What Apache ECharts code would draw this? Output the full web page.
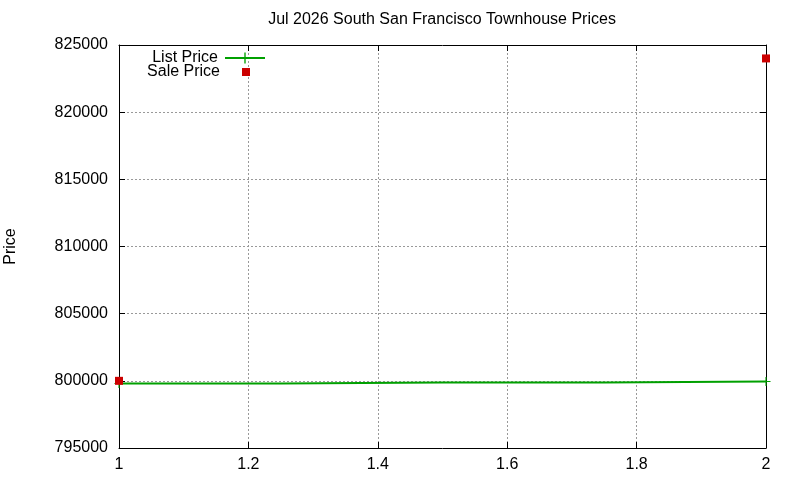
<!DOCTYPE html>
<html lang="en" style="height: 100%">
<head>
  <meta charset="utf-8">
</head>
<body style="height: 100%; margin: 0; background: #fff">
  <div id="container" style="width: 800px; height: 480px"></div>
  <script type="text/javascript" src="https://fastly.jsdelivr.net/npm/echarts@6/dist/echarts.min.js"></script>
  <script type="text/javascript">
    // data
    var listX = [1, 1.5, 2];
    var listPrice = [799800, 799870, 799950];
    var saleX = [1, 2];
    var salePrice = [800000, 824000];
    var xTicks = [1, 1.2, 1.4, 1.6, 1.8, 2];
    var yTicks = [795000, 800000, 805000, 810000, 815000, 820000, 825000];

    var font = 'Liberation Sans, Arial, sans-serif';
    var plus = 'path://M0,4.4H10V5.6H0Z M4.4,0H5.6V10H4.4Z';

    var myChart = echarts.init(document.getElementById('container'), null, { renderer: 'canvas' });

    var listData = listX.map(function (x, i) { return [x, listPrice[i]]; });
    var saleData = saleX.map(function (x, i) { return [x, salePrice[i]]; });

    var option = {
      backgroundColor: '#fff',
      animation: false,
      textStyle: { fontFamily: font },
      title: {
        text: 'Jul 2026 South San Francisco Townhouse Prices',
        left: 442, textAlign: 'center', top: 12, padding: 0,
        textStyle: { fontFamily: font, fontSize: 16, fontWeight: 'normal', color: '#000' }
      },
      legend: [
        {
          data: ['List Price'], right: 534, top: 50, align: 'right', padding: 0,
          itemWidth: 40, itemHeight: 14, itemGap: 0,
          textStyle: { fontFamily: font, fontSize: 16, color: '#000', padding: [0, 2, 0, 0] }
        },
        {
          data: ['Sale Price'], right: 550, top: 64, align: 'right', padding: 0,
          itemWidth: 8, itemHeight: 8, itemGap: 0,
          itemStyle: { opacity: 1 },
          textStyle: { fontFamily: font, fontSize: 16, color: '#000', padding: [0, 17, 0, 0] }
        }
      ],
      grid: { left: 119, right: 34, top: 45, bottom: 32, outerBoundsMode: 'none', containLabel: false },
      xAxis: [
        {
          type: 'value', min: 1, max: 2, interval: 0.2,
          axisLine: { lineStyle: { color: '#000' } },
          axisTick: { inside: true, length: 6, lineStyle: { color: '#000' } },
          axisLabel: {
            color: '#000', fontSize: 16, margin: 9, fontFamily: font,
            formatter: function (v) { return String(+v.toFixed(1)); }
          },
          splitLine: { show: true, lineStyle: { color: '#999', type: [2, 2] } }
        },
        {
          type: 'value', min: 1, max: 2, interval: 0.2, position: 'top',
          axisLine: { show: true, lineStyle: { color: '#000' } },
          axisTick: { show: true, inside: true, length: 6, lineStyle: { color: '#000' } },
          axisLabel: { show: false }, splitLine: { show: false }
        }
      ],
      yAxis: [
        {
          type: 'value', min: yTicks[0], max: yTicks[yTicks.length - 1], interval: 5000,
          name: 'Price', nameLocation: 'middle', nameGap: 100, nameRotate: 90,
          nameTextStyle: { fontFamily: font, fontSize: 16, color: '#000' },
          axisLine: { show: true, lineStyle: { color: '#000' } },
          axisTick: { show: true, inside: true, length: 6, lineStyle: { color: '#000' } },
          axisLabel: {
            color: '#000', fontSize: 16, margin: 11, fontFamily: font,
            formatter: function (v) { return String(v); }
          },
          splitLine: { show: true, lineStyle: { color: '#999', type: [2, 2] } }
        },
        {
          type: 'value', min: yTicks[0], max: yTicks[yTicks.length - 1], interval: 5000, position: 'right',
          axisLine: { show: true, lineStyle: { color: '#000' } },
          axisTick: { show: true, inside: true, length: 6, lineStyle: { color: '#000' } },
          axisLabel: { show: false }, splitLine: { show: false }
        }
      ],
      series: [
        {
          name: 'List Price', type: 'line', step: 'middle',
          data: listData,
          symbol: plus,
          symbolSize: function (v, p) { return p.dataIndex === 1 ? 0 : 9; },
          color: '#00a000',
          lineStyle: { color: '#00a000', width: 2 },
          itemStyle: { color: '#00a000' },
          clip: false, z: 2
        },
        {
          name: 'Sale Price', type: 'scatter',
          data: saleData,
          symbol: 'rect', symbolSize: 8,
          color: '#cc0000',
          itemStyle: { color: '#cc0000', opacity: 1 },
          clip: false, z: 3
        }
      ]
    };

    myChart.setOption(option);
    window.addEventListener('resize', myChart.resize);
  </script>
</body>
</html>
